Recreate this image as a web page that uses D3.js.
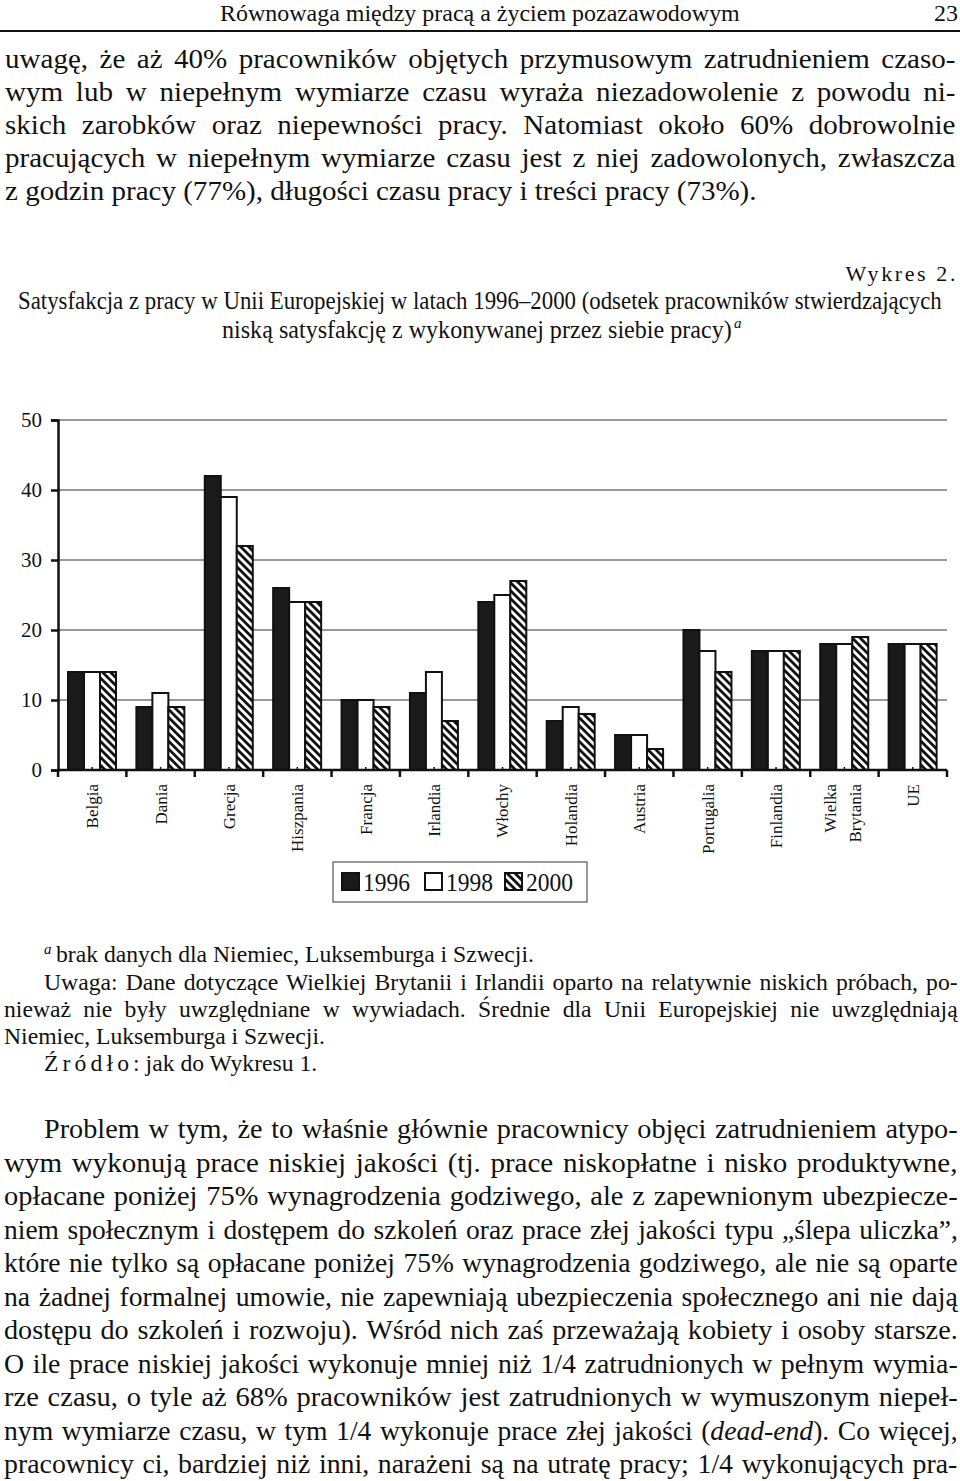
<!DOCTYPE html>
<html><head><meta charset="utf-8">
<script src="https://cdn.jsdelivr.net/npm/d3@7"></script>
<style>body{margin:0;background:#fff}svg{display:block}text{font-family:"Liberation Serif","Times New Roman",serif;fill:#111}</style>
</head><body>
<script>
const categories = ["Belgia","Dania","Grecja","Hiszpania","Francja","Irlandia","Włochy","Holandia","Austria","Portugalia","Finlandia","Wielka Brytania","UE"];
const years = ["1996","1998","2000"];
const v1996 = [14,9,42,26,10,11,24,7,5,20,17,18,18];
const v1998 = [14,11,39,24,10,14,25,9,5,17,17,18,18];
const v2000 = [14,9,32,24,9,7,27,8,3,14,17,19,18];
const yTicks = [0,10,20,30,40,50];

const header = "Równowaga między pracą a życiem pozazawodowym";
const pageNo = "23";
const para1 = [
 "uwagę, że aż 40% pracowników objętych przymusowym zatrudnieniem czaso-",
 "wym lub w niepełnym wymiarze czasu wyraża niezadowolenie z powodu ni-",
 "skich zarobków oraz niepewności pracy. Natomiast około 60% dobrowolnie",
 "pracujących w niepełnym wymiarze czasu jest z niej zadowolonych, zwłaszcza",
 "z godzin pracy (77%), długości czasu pracy i treści pracy (73%)."
];
const figLabel = "Wykres 2.";
const title1 = "Satysfakcja z pracy w Unii Europejskiej w latach 1996–2000 (odsetek pracowników stwierdzających";
const title2 = "niską satysfakcję z wykonywanej przez siebie pracy)";
const notes = [
 "brak danych dla Niemiec, Luksemburga i Szwecji.",
 "Uwaga: Dane dotyczące Wielkiej Brytanii i Irlandii oparto na relatywnie niskich próbach, po-",
 "nieważ nie były uwzględniane w wywiadach. Średnie dla Unii Europejskiej nie uwzględniają",
 "Niemiec, Luksemburga i Szwecji."
];
const para2 = [
 "Problem w tym, że to właśnie głównie pracownicy objęci zatrudnieniem atypo-",
 "wym wykonują prace niskiej jakości (tj. prace niskopłatne i nisko produktywne,",
 "opłacane poniżej 75% wynagrodzenia godziwego, ale z zapewnionym ubezpiecze-",
 "niem społecznym i dostępem do szkoleń oraz prace złej jakości typu „ślepa uliczka”,",
 "które nie tylko są opłacane poniżej 75% wynagrodzenia godziwego, ale nie są oparte",
 "na żadnej formalnej umowie, nie zapewniają ubezpieczenia społecznego ani nie dają",
 "dostępu do szkoleń i rozwoju). Wśród nich zaś przeważają kobiety i osoby starsze.",
 "O ile prace niskiej jakości wykonuje mniej niż 1/4 zatrudnionych w pełnym wymia-",
 "rze czasu, o tyle aż 68% pracowników jest zatrudnionych w wymuszonym niepeł-",
 "nym wymiarze czasu, w tym 1/4 wykonuje prace złej jakości (|dead-end|). Co więcej,",
 "pracownicy ci, bardziej niż inni, narażeni są na utratę pracy; 1/4 wykonujących pra-"
];

const W = 960, H = 1481;
const svg = d3.select("body").append("svg").attr("width", W).attr("height", H);

function fill(t, str) {
  str.split("|").forEach((p, i) => {
    const ts = t.append("tspan").text(p);
    if (i % 2 === 1) ts.attr("font-style", "italic");
  });
}
function measure(str, size) {
  const t = svg.append("text").attr("font-size", size);
  fill(t, str);
  const w = t.node().getComputedTextLength();
  t.remove();
  return w;
}
function line(x, y, str, size, sx, target, anchor) {
  const t = svg.append("text").attr("font-size", size)
    .attr("text-anchor", anchor || "start");
  fill(t, str);
  let s = sx;
  if (target) {
    const nat = t.node().getComputedTextLength();
    const n = (str.match(/ /g) || []).length;
    const minGap = size * 0.06;
    s = Math.min(sx, target / (nat + n * minGap));
    if (n) t.attr("word-spacing", (target / s - nat) / n);
  }
  t.attr("transform", `translate(${x},${y}) scale(${s},1)`);
  return t;
}

// header
const hs = 23, hsx = 520 / measure(header, hs);
line(220, 21, header, hs, hsx);
line(958, 21, pageNo, hs, hsx, null, "end");
svg.append("line").attr("x1", 0).attr("x2", W).attr("y1", 31).attr("y2", 31).attr("stroke", "#111").attr("stroke-width", 2);

// paragraph 1
const ps = 27, psx = 752 / measure(para1[4], ps);
para1.forEach((s, i) => {
  const last = i === para1.length - 1;
  line(5, 68 + i * 33, s, ps, psx, last ? null : 951);
});

// figure label & title
svg.append("text").attr("x", 958).attr("y", 281).attr("font-size", 22).attr("text-anchor", "end")
  .attr("letter-spacing", 2.6).text(figLabel);
const ts = 25, tsx = 924 / measure(title1, ts);
line(18, 309, title1, ts, tsx);
const t2sx = 510 / measure(title2, ts);
line(222, 338, title2, ts, t2sx);
svg.append("text").attr("x", 734).attr("y", 328).attr("font-size", 15).attr("font-style", "italic").text("a");

// chart
const x0 = d3.scaleBand().domain(categories).range([58, 947]).paddingInner(0).paddingOuter(0);
const x1 = d3.scaleBand().domain(years).range([10, 58]);
const y = d3.scaleLinear().domain([0, 50]).range([770, 420]);

const defs = svg.append("defs");
const pat = defs.append("pattern").attr("id", "hatch").attr("patternUnits", "userSpaceOnUse")
  .attr("width", 5.6).attr("height", 5.6).attr("patternTransform", "rotate(45)");
pat.append("rect").attr("width", 5.6).attr("height", 5.6).attr("fill", "#fff");
pat.append("rect").attr("width", 5.6).attr("height", 2.8).attr("fill", "#111");

const fills = {"1996": "#1a1a1a", "1998": "#fff", "2000": "url(#hatch)"};
const series = {"1996": v1996, "1998": v1998, "2000": v2000};

// gridlines
svg.append("g").selectAll("line").data(yTicks.filter(d => d > 0)).join("line")
  .attr("x1", 58).attr("x2", 947).attr("y1", d => y(d)).attr("y2", d => y(d))
  .attr("stroke", "#777").attr("stroke-width", 1.6);

// bars
const groups = svg.append("g").selectAll("g").data(categories).join("g")
  .attr("transform", d => `translate(${x0(d)},0)`);
groups.selectAll("rect").data((c, i) => years.map(yr => ({yr, v: series[yr][i]}))).join("rect")
  .attr("x", d => x1(d.yr)).attr("width", x1.bandwidth())
  .attr("y", d => y(d.v)).attr("height", d => y(0) - y(d.v))
  .attr("fill", d => fills[d.yr]).attr("stroke", "#111").attr("stroke-width", 2);

// y axis
const yAxis = d3.axisLeft(y).tickValues(yTicks).tickSize(7).tickPadding(9);
const gy = svg.append("g").attr("transform", "translate(58,0)").call(yAxis);
gy.attr("font-family", null);
gy.select(".domain").attr("stroke", "#111").attr("stroke-width", 2.5);
gy.selectAll(".tick line").attr("stroke", "#111").attr("stroke-width", 2.5);
gy.selectAll(".tick text").attr("font-size", 21).attr("fill", "#111");

// x axis: boundary ticks
const bounds = categories.map(c => x0(c)).concat([x0.range()[1]]);
svg.append("line").attr("x1", 58).attr("x2", 947).attr("y1", y(0)).attr("y2", y(0)).attr("stroke", "#111").attr("stroke-width", 2.5);
svg.append("g").selectAll("line").data(bounds).join("line")
  .attr("x1", d => d).attr("x2", d => d).attr("y1", y(0)).attr("y2", y(0) + 7)
  .attr("stroke", "#111").attr("stroke-width", 2.5);
svg.append("g").selectAll("line").data(categories).join("line")
  .attr("x1", d => x0(d) + x0.bandwidth() / 2).attr("x2", d => x0(d) + x0.bandwidth() / 2)
  .attr("y1", y(0)).attr("y2", y(0) - 3).attr("stroke", "#111").attr("stroke-width", 1.5);

// category labels
const lab = svg.append("g").selectAll("g").data(categories).join("g")
  .attr("transform", d => `translate(${x0(d) + x0.bandwidth() / 2},784) rotate(-90)`);
lab.each(function(d) {
  const parts = d.split(" ");
  const offs = parts.length === 2 ? [-14, 11] : [0];
  parts.forEach((p, i) => {
    d3.select(this).append("text").attr("text-anchor", "end").attr("font-size", 17)
      .attr("y", offs[i]).attr("dy", "0.35em").text(p);
  });
});

// legend
const lg = svg.append("g");
lg.append("rect").attr("x", 333).attr("y", 862).attr("width", 254).attr("height", 40)
  .attr("fill", "#fff").attr("stroke", "#555").attr("stroke-width", 1.2);
const lx = [342, 425, 505];
years.forEach((yr, i) => {
  lg.append("rect").attr("x", lx[i]).attr("y", 873).attr("width", 17).attr("height", 17)
    .attr("fill", fills[yr]).attr("stroke", "#111").attr("stroke-width", 2);
  lg.append("text").attr("x", lx[i] + 21).attr("y", 891).attr("font-size", 25)
    .attr("textLength", 47).attr("lengthAdjust", "spacingAndGlyphs").text(yr);
});

// notes
const ns = 23, nsx = 321 / measure(notes[3], ns);
svg.append("text").attr("x", 44).attr("y", 954).attr("font-size", 15).attr("font-style", "italic").text("a");
line(56, 962, notes[0], ns, nsx);
line(44, 990, notes[1], ns, nsx, 914);
line(4, 1017, notes[2], ns, nsx, 954);
line(4, 1044, notes[3], ns, nsx);
const src = svg.append("text").attr("font-size", ns)
  .attr("transform", `translate(44,1071) scale(${nsx},1)`);
src.append("tspan").attr("letter-spacing", 4).text("Źródło");
src.append("tspan").text(": jak do Wykresu 1.");

// paragraph 2
para2.forEach((s, i) => {
  const first = i === 0;
  line(first ? 44 : 4, 1138 + i * 33.5, s, ps, psx, first ? 914 : 954);
});
</script>
</body></html>
